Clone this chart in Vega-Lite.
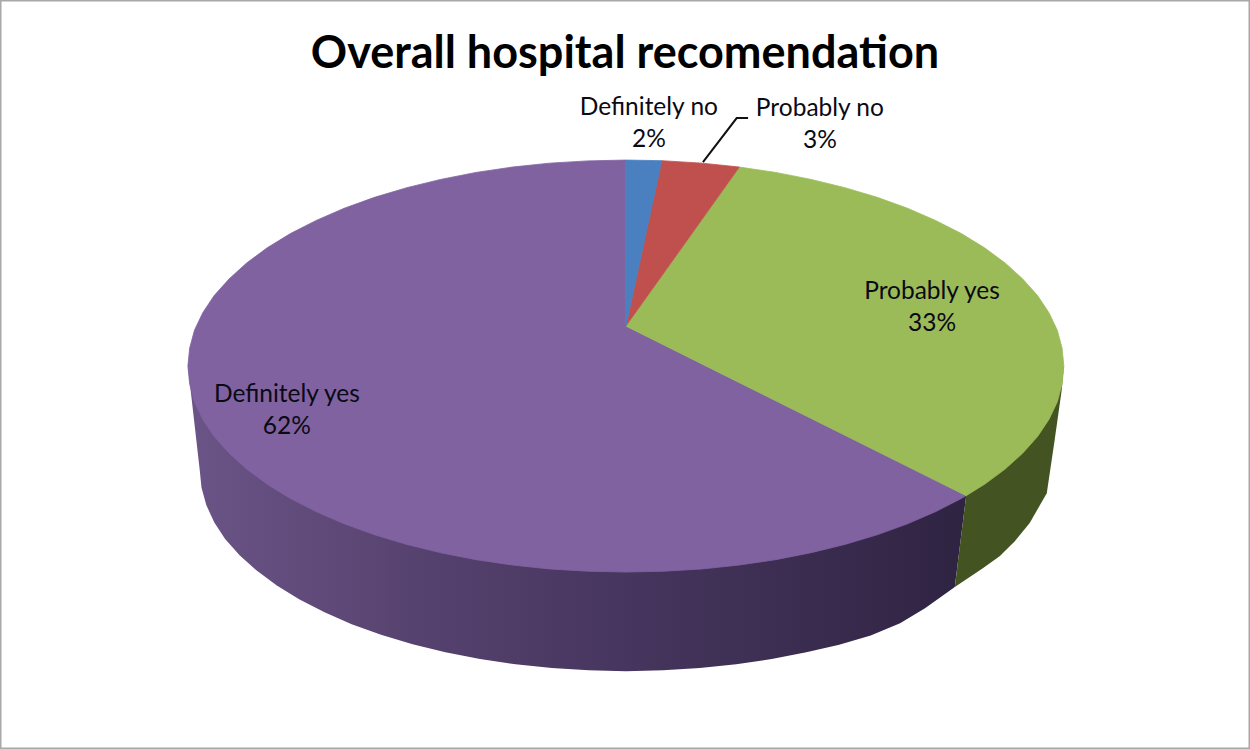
{
"$schema":"https://vega.github.io/schema/vega-lite/v6.json",
"width":1250,"height":749,"padding":0,"autosize":{"type":"none"},
"background":"#ffffff",
"config":{"view":{"stroke":"#a8a8a8","strokeWidth":3},"text":{"font":"Lato"}},
"title":{"text":"Overall hospital recomendation","font":"Lato","fontWeight":"bold","fontSize":45,"color":"#000000","anchor":"middle","frame":"group","baseline":"alphabetic","offset":0,"dy":113},
"datasets":{
"wallPurple":[{"i":0,"x":-100,"y":0},{"i":1,"x":-97.3,"y":-50.5},{"i":2,"x":-96.9,"y":-59.0},{"i":3,"x":-95.8,"y":-67.5},{"i":4,"x":-94.0,"y":-75.8},{"i":5,"x":-91.5,"y":-83.9},{"i":6,"x":-88.2,"y":-91.8},{"i":7,"x":-84.3,"y":-99.3},{"i":8,"x":-79.7,"y":-106.5},{"i":9,"x":-74.5,"y":-113.3},{"i":10,"x":-68.8,"y":-119.5},{"i":11,"x":-62.6,"y":-125.3},{"i":12,"x":-55.9,"y":-130.4},{"i":13,"x":-48.7,"y":-135.0},{"i":14,"x":-41.2,"y":-138.9},{"i":15,"x":-33.3,"y":-142.2},{"i":16,"x":-25.2,"y":-144.8},{"i":17,"x":-16.9,"y":-146.6},{"i":18,"x":-8.5,"y":-147.7},{"i":19,"x":0,"y":-148.1},{"i":20,"x":8.5,"y":-147.7},{"i":21,"x":16.9,"y":-146.6},{"i":22,"x":25.2,"y":-144.8},{"i":23,"x":33.3,"y":-142.2},{"i":24,"x":41.2,"y":-138.9},{"i":25,"x":48.7,"y":-135.3},{"i":26,"x":55.9,"y":-130.8},{"i":27,"x":62.6,"y":-124.9},{"i":28,"x":68.3,"y":-117.6},{"i":29,"x":75.1,"y":-107.3},{"i":30,"x":77.7,"y":-62.9}],
"wallGreen":[{"i":0,"x":77.7,"y":-62.9},{"i":1,"x":75.1,"y":-107.3},{"i":2,"x":81.5,"y":-98.1},{"i":3,"x":85.4,"y":-92.2},{"i":4,"x":88.8,"y":-85.0},{"i":5,"x":92.2,"y":-76.2},{"i":6,"x":96.1,"y":-61.7},{"i":7,"x":97.9,"y":-35.9},{"i":8,"x":99.5,"y":-11.7},{"i":9,"x":100,"y":0}],
"topPurple":[{"i":0,"x":0,"y":19.4},{"i":1,"x":77.7,"y":-62.9},{"i":2,"x":76.6,"y":-64.3},{"i":3,"x":70.7,"y":-70.7},{"i":4,"x":64.3,"y":-76.6},{"i":5,"x":57.4,"y":-81.9},{"i":6,"x":50,"y":-86.6},{"i":7,"x":42.3,"y":-90.6},{"i":8,"x":34.2,"y":-94.0},{"i":9,"x":25.9,"y":-96.6},{"i":10,"x":17.4,"y":-98.5},{"i":11,"x":8.7,"y":-99.6},{"i":12,"x":0,"y":-100},{"i":13,"x":-8.7,"y":-99.6},{"i":14,"x":-17.4,"y":-98.5},{"i":15,"x":-25.9,"y":-96.6},{"i":16,"x":-34.2,"y":-94.0},{"i":17,"x":-42.3,"y":-90.6},{"i":18,"x":-50,"y":-86.6},{"i":19,"x":-57.4,"y":-81.9},{"i":20,"x":-64.3,"y":-76.6},{"i":21,"x":-70.7,"y":-70.7},{"i":22,"x":-76.6,"y":-64.3},{"i":23,"x":-81.9,"y":-57.4},{"i":24,"x":-86.6,"y":-50},{"i":25,"x":-90.6,"y":-42.3},{"i":26,"x":-94.0,"y":-34.2},{"i":27,"x":-96.6,"y":-25.9},{"i":28,"x":-98.5,"y":-17.4},{"i":29,"x":-99.6,"y":-8.7},{"i":30,"x":-100,"y":0},{"i":31,"x":-99.6,"y":8.7},{"i":32,"x":-98.5,"y":17.4},{"i":33,"x":-96.6,"y":25.9},{"i":34,"x":-94.0,"y":34.2},{"i":35,"x":-90.6,"y":42.3},{"i":36,"x":-86.6,"y":50},{"i":37,"x":-81.9,"y":57.4},{"i":38,"x":-76.6,"y":64.3},{"i":39,"x":-70.7,"y":70.7},{"i":40,"x":-64.3,"y":76.6},{"i":41,"x":-57.4,"y":81.9},{"i":42,"x":-50,"y":86.6},{"i":43,"x":-42.3,"y":90.6},{"i":44,"x":-34.2,"y":94.0},{"i":45,"x":-25.9,"y":96.6},{"i":46,"x":-17.4,"y":98.5},{"i":47,"x":-8.7,"y":99.6},{"i":48,"x":0,"y":100}],
"topGreen":[{"i":0,"x":0,"y":19.4},{"i":1,"x":25.9,"y":96.6},{"i":2,"x":34.2,"y":94.0},{"i":3,"x":42.3,"y":90.6},{"i":4,"x":50,"y":86.6},{"i":5,"x":57.4,"y":81.9},{"i":6,"x":64.3,"y":76.6},{"i":7,"x":70.7,"y":70.7},{"i":8,"x":76.6,"y":64.3},{"i":9,"x":81.9,"y":57.4},{"i":10,"x":86.6,"y":50},{"i":11,"x":90.6,"y":42.3},{"i":12,"x":94.0,"y":34.2},{"i":13,"x":96.6,"y":25.9},{"i":14,"x":98.5,"y":17.4},{"i":15,"x":99.6,"y":8.7},{"i":16,"x":100,"y":0},{"i":17,"x":99.6,"y":-8.7},{"i":18,"x":98.5,"y":-17.4},{"i":19,"x":96.6,"y":-25.9},{"i":20,"x":94.0,"y":-34.2},{"i":21,"x":90.6,"y":-42.3},{"i":22,"x":86.6,"y":-50},{"i":23,"x":81.9,"y":-57.4},{"i":24,"x":77.7,"y":-62.9}],
"topRed":[{"i":0,"x":0,"y":19.4},{"i":1,"x":8.2,"y":99.7},{"i":2,"x":17.4,"y":98.5},{"i":3,"x":25.9,"y":96.6}],
"topBlue":[{"i":0,"x":0,"y":19.4},{"i":1,"x":0,"y":100},{"i":2,"x":8.2,"y":99.7}],
"leader":[{"i":0,"x":17.6,"y":99.0},{"i":1,"x":25.3,"y":120.4},{"i":2,"x":27.9,"y":120.4}],
"labels":[
{"slice":"Definitely no","percent":2,"label":"Definitely no\n2%","x":5.25,"y":125.5},
{"slice":"Probably no","percent":3,"label":"Probably no\n3%","x":44.3,"y":124.7},
{"slice":"Probably yes","percent":33,"label":"Probably yes\n33%","x":69.9,"y":35.9},
{"slice":"Definitely yes","percent":62,"label":"Definitely yes\n62%","x":-77.4,"y":-14.1}
]},
"encoding":{
"x":{"field":"x","type":"quantitative","scale":{"domain":[-142.9,142.5],"nice":false,"zero":false},"axis":null},
"y":{"field":"y","type":"quantitative","scale":{"domain":[-185.9,177.7],"nice":false,"zero":false},"axis":null}
},
"layer":[
{"data":{"name":"wallPurple"},"mark":{"type":"line","interpolate":"linear-closed","strokeWidth":0,"fill":{"gradient":"linear","x1":0,"y1":0,"x2":1,"y2":0,"stops":[{"offset":0,"color":"#6b5487"},{"offset":0.33,"color":"#54406c"},{"offset":0.55,"color":"#47365f"},{"offset":0.8,"color":"#3a2c4f"},{"offset":1,"color":"#2f2342"}]}},"encoding":{"order":{"field":"i","type":"quantitative"}}},
{"data":{"name":"wallGreen"},"mark":{"type":"line","interpolate":"linear-closed","strokeWidth":0,"fill":"#435321"},"encoding":{"order":{"field":"i","type":"quantitative"}}},
{"data":{"name":"topPurple"},"mark":{"type":"line","interpolate":"linear-closed","strokeWidth":0.8,"stroke":"#8062a1","fill":"#8062a1"},"encoding":{"order":{"field":"i","type":"quantitative"}}},
{"data":{"name":"topGreen"},"mark":{"type":"line","interpolate":"linear-closed","strokeWidth":0.8,"stroke":"#9bbb59","fill":"#9bbb59"},"encoding":{"order":{"field":"i","type":"quantitative"}}},
{"data":{"name":"topRed"},"mark":{"type":"line","interpolate":"linear-closed","strokeWidth":0.8,"stroke":"#c0504d","fill":"#c0504d"},"encoding":{"order":{"field":"i","type":"quantitative"}}},
{"data":{"name":"topBlue"},"mark":{"type":"line","interpolate":"linear-closed","strokeWidth":0.8,"stroke":"#4a7fc0","fill":"#4a7fc0"},"encoding":{"order":{"field":"i","type":"quantitative"}}},
{"data":{"name":"leader"},"mark":{"type":"line","stroke":"#111111","strokeWidth":2},"encoding":{"order":{"field":"i","type":"quantitative"}}},
{"data":{"name":"labels"},"mark":{"type":"text","font":"Lato","fontSize":24.5,"lineBreak":"\n","lineHeight":32,"align":"center","baseline":"middle","color":"#0a0a14"},"encoding":{"text":{"field":"label","type":"nominal"}}}
]
}
